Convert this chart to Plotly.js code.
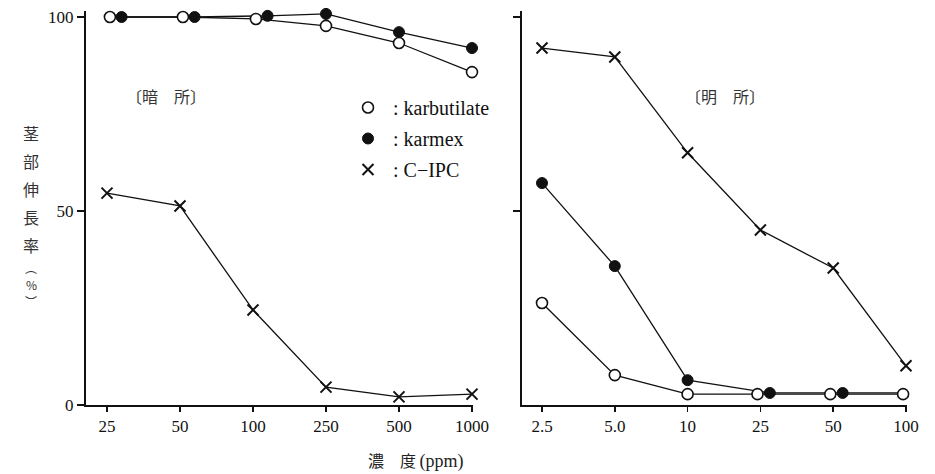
<!DOCTYPE html>
<html>
<head>
<meta charset="utf-8">
<script src="https://cdn.plot.ly/plotly-3.0.1.min.js"></script>
<style>html,body{margin:0;padding:0;background:#fff;}#chart{width:935px;height:474px;}</style>
</head>
<body>
<div id="chart"></div>
<script>
// ---- data ----
const categoriesDark  = ['25', '50', '100', '250', '500', '1000'];
const categoriesLight = ['2.5', '5.0', '10', '25', '50', '100'];
const yTickValues = [0, 50, 100];
const yTickLabels = ['0', '50', '100'];

const darkKarbutilate  = [100, 100, 99.5, 97.7, 93.3, 85.8];
const darkKarmex       = [100, 100, 100.3, 100.8, 96.1, 92.0];
const darkCIPC         = [54.6, 51.3, 24.5, 4.6, 2.1, 2.8];

const lightKarbutilate = [26.3, 7.7, 2.8, 2.8, 2.8, 2.8];
const lightKarmex      = [57.2, 35.8, 6.4, 3.1, 3.1, 3.1];
const lightCIPC        = [92.0, 89.7, 65.0, 45.1, 35.3, 10.1];

const seriesNames = ['karbutilate', 'karmex', 'C\u2212IPC'];
const panelLabels = ['\u3014暗\u3000所\u3015', '\u3014明\u3000所\u3015'];
const yTitleChars = ['茎', '部', '伸', '長', '率'];
const yTitleUnit = ['\uFE35', '%', '\uFE36'];

// ---- styles ----
const serif = 'Liberation Serif, Times New Roman, serif';
const cjk = 'Noto Sans CJK JP, sans-serif';
const ink = '#111';
const xTitle = '濃\u3000度 <span style="font-family:Liberation Serif;font-size:18px">(ppm)</span>';
const lineStyle = {color: ink, width: 1.3};
const openMarker   = {symbol: 'circle', size: 11, color: '#fff', line: {color: ink, width: 1.6}};
const filledMarker = {symbol: 'circle', size: 11, color: ink, line: {color: ink, width: 1}};
const crossMarker  = {symbol: 'x-thin', size: 11, color: ink, line: {color: ink, width: 2}};
// small horizontal offsets used only where the two circle series coincide
const overlapShift = {dark: [0.04, 0.2], light: [-0.04, 0.13]};

function idx(arr) { return arr.map((_, i) => i); }
function shifted(a, b, shiftA, shiftB) {
  const xa = [], xb = [];
  a.forEach((v, i) => {
    const same = Math.abs(v - b[i]) < 2;
    xa.push(i + (same ? shiftA : 0));
    xb.push(i + (same ? shiftB : 0));
  });
  return [xa, xb];
}

function panel(kb, km, ci, xa, ya, shift) {
  const [xkb, xkm] = shifted(kb, km, shift[0], shift[1]);
  const base = {mode: 'lines+markers', line: lineStyle, xaxis: xa, yaxis: ya,
                showlegend: false, cliponaxis: false, hoverinfo: 'skip'};
  return [
    Object.assign({}, base, {x: idx(ci), y: ci, marker: crossMarker}),
    Object.assign({}, base, {x: xkm, y: km, marker: filledMarker}),
    Object.assign({}, base, {x: xkb, y: kb, marker: openMarker}),
  ];
}

const traces = [].concat(
  panel(darkKarbutilate, darkKarmex, darkCIPC, 'x', 'y', overlapShift.dark),
  panel(lightKarbutilate, lightKarmex, lightCIPC, 'x2', 'y2', overlapShift.light)
);

// legend-only entries
[openMarker, filledMarker, crossMarker].forEach((m, i) => {
  traces.push({x: [null], y: [null], mode: 'markers', marker: m, name: ' : ' + seriesNames[i],
               legendgroup: 'g' + i, showlegend: true, xaxis: 'x', yaxis: 'y'});
});

const W = 935, H = 474;
const L = 86, R = 28, T = 11, B = 69;
const pw = W - L - R, ph = H - T - B;
const pxPerUnit = 3.88;
const yTop = ph / pxPerUnit;
const px = v => (v - L) / pw;
const py = v => (H - B - v) / ph;

const xCommon = {showgrid: false, zeroline: false, showline: true, linecolor: ink, linewidth: 2,
                 ticks: 'outside', ticklen: 5, tickwidth: 1.5, tickcolor: ink,
                 tickfont: {family: serif, size: 17, color: ink}, tickmode: 'array', fixedrange: true};
const yCommon = {showgrid: false, zeroline: false, showline: true, linecolor: ink, linewidth: 2,
                 ticks: 'outside', ticklen: 7, tickwidth: 1.5, tickcolor: ink, range: [0, yTop],
                 tickfont: {family: serif, size: 17, color: ink}, tickmode: 'array', fixedrange: true};

function note(x, y, text, font, extra) {
  return Object.assign({xref: 'paper', yref: 'paper', x: px(x), y: py(y), text: text,
    xanchor: 'center', yanchor: 'middle', showarrow: false, font: font}, extra || {});
}

const annotations = [];
annotations.push(note(166, 96, panelLabels[0], {family: cjk, size: 16, color: '#333'}));
annotations.push(note(725, 96, panelLabels[1], {family: cjk, size: 16, color: '#333'}));
annotations.push(note(416, 460, xTitle, {family: cjk, size: 16, color: '#222'}));
yTitleChars.forEach((c, i) => {
  annotations.push(note(31, 133 + i * 28, c, {family: cjk, size: 16, color: '#333'}));
});
yTitleUnit.forEach((c, i) => {
  annotations.push(note(31, 267 + i * 17, c, {family: cjk, size: 12, color: '#333'}));
});

const layout = {
  width: W, height: H,
  margin: {l: L, r: R, t: T, b: B, pad: 0},
  paper_bgcolor: '#fff', plot_bgcolor: '#fff',
  xaxis: Object.assign({}, xCommon, {domain: [0, px(473)], range: [-21 / 73, 5 + 1 / 73],
    tickvals: idx(categoriesDark), ticktext: categoriesDark, anchor: 'y'}),
  yaxis: Object.assign({}, yCommon, {tickvals: yTickValues, ticktext: yTickLabels, anchor: 'x'}),
  xaxis2: Object.assign({}, xCommon, {domain: [px(522), 1], range: [-20 / 72.8, 5 + 1 / 72.8],
    tickvals: idx(categoriesLight), ticktext: categoriesLight, anchor: 'y2'}),
  yaxis2: Object.assign({}, yCommon, {tickvals: yTickValues.slice(1), showticklabels: false, anchor: 'x2'}),
  showlegend: true,
  legend: {x: px(348), y: py(88), xanchor: 'left', yanchor: 'top', bgcolor: 'rgba(0,0,0,0)',
           font: {family: serif, size: 20, color: ink}, tracegroupgap: 2, itemclick: false},
  annotations: annotations,
};

Plotly.newPlot('chart', traces, layout, {staticPlot: true, displayModeBar: false});
</script>
</body>
</html>
